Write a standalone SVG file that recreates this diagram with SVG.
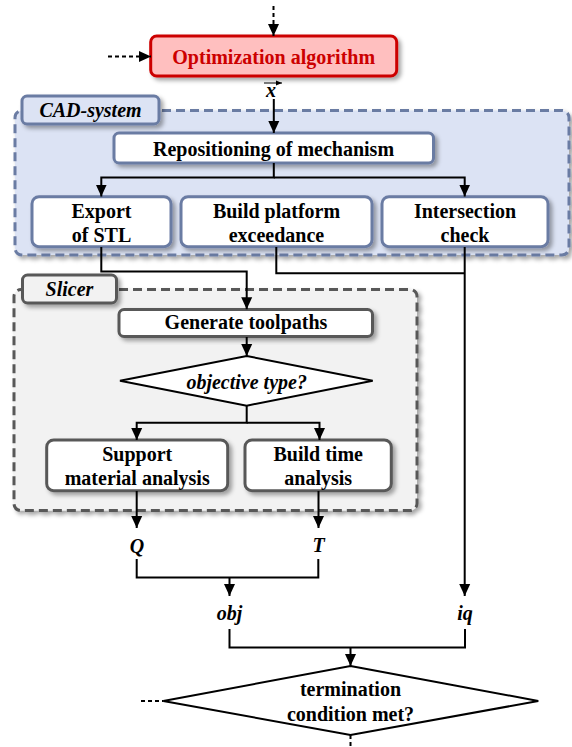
<svg xmlns="http://www.w3.org/2000/svg" width="572" height="747" viewBox="0 0 572 747">
<defs>
<filter id="sh" x="-10%" y="-20%" width="130%" height="150%">
<feDropShadow dx="3" dy="3" stdDeviation="2" flood-color="#000" flood-opacity="0.35"/>
</filter>
<marker id="ah" markerUnits="userSpaceOnUse" markerWidth="12" markerHeight="12" refX="12" refY="6" orient="auto">
<path d="M0,0.5 L12,6 L0,11.5 z" fill="#000"/>
</marker>
<marker id="ahs" markerUnits="userSpaceOnUse" markerWidth="6" markerHeight="6" refX="6" refY="3" orient="auto">
<path d="M0,0.5 L6,3 L0,5.5 z" fill="#000"/>
</marker>
</defs>
<style>
text{font-family:"Liberation Serif","Times New Roman",serif;font-size:20px;font-weight:bold;text-anchor:middle;fill:#000}
.it{font-style:italic}
.cadreg{fill:#dce3f4;stroke:#6b7ba3;stroke-width:3;stroke-dasharray:9 5}
.slreg{fill:#f2f2f2;stroke:#595959;stroke-width:3;stroke-dasharray:9 5}
.cadtab{fill:#dce3f4;stroke:#6b7ba3;stroke-width:3}
.sltab{fill:#f2f2f2;stroke:#595959;stroke-width:3}
.cadbox{fill:#fff;stroke:#6b7ba3;stroke-width:3}
.slbox{fill:#fff;stroke:#595959;stroke-width:3}
.dia{fill:#fff;stroke:#000;stroke-width:2}
.c{fill:none;stroke:#000;stroke-width:2}
.d{fill:none;stroke:#000;stroke-width:2;stroke-dasharray:4 3}
</style>

<g id="cad-region">
<rect class="cadreg" x="15" y="110.5" width="554" height="144.5" rx="7" filter="url(#sh)"/>
<rect class="cadtab" x="22" y="96" width="137" height="28" rx="5" filter="url(#sh)"/>
<text class="it" x="90.5" y="117">CAD-system</text>
</g>
<g id="slicer-region">
<rect class="slreg" x="14" y="289.5" width="403" height="221" rx="7" filter="url(#sh)"/>
<rect class="sltab" x="22.5" y="275" width="94" height="28" rx="5" filter="url(#sh)"/>
<text class="it" x="69.5" y="296">Slicer</text>
</g>

<g id="optimization">
<rect x="150.7" y="36" width="246" height="40" rx="6" fill="#ffbfbf" stroke="#cc0000" stroke-width="3" filter="url(#sh)"/>
<text x="273.7" y="64" style="fill:#cc0000">Optimization algorithm</text>
</g>
<g id="xvec">
<text class="it" x="271" y="97">x</text>
<line x1="264" y1="83" x2="282" y2="83" stroke="#000" stroke-width="1" marker-end="url(#ahs)"/>
</g>
<g id="repositioning">
<rect class="cadbox" x="114" y="133" width="319.5" height="30" rx="5" filter="url(#sh)"/>
<text x="273.5" y="155.5">Repositioning of mechanism</text>
</g>
<g id="export">
<rect class="cadbox" x="32" y="196.7" width="139" height="50" rx="7" filter="url(#sh)"/>
<text x="101.5" y="217.5">Export</text>
<text x="101.5" y="241.5">of STL</text>
</g>
<g id="buildplatform">
<rect class="cadbox" x="181" y="196.7" width="191" height="50" rx="7" filter="url(#sh)"/>
<text x="276.5" y="217.5">Build platform</text>
<text x="276.5" y="241.5">exceedance</text>
</g>
<g id="intersection">
<rect class="cadbox" x="382" y="196.7" width="166" height="50" rx="7" filter="url(#sh)"/>
<text x="465" y="217.5">Intersection</text>
<text x="465" y="241.5">check</text>
</g>
<g id="toolpaths">
<rect class="slbox" x="119" y="309.5" width="253.5" height="27" rx="5" filter="url(#sh)"/>
<text x="246" y="328.5">Generate toolpaths</text>
</g>
<g id="objtype">
<polygon class="dia" points="246.7,356 372.7,380.7 246.7,405.7 120,380.7"/>
<text class="it" x="246.7" y="388.5">objective type?</text>
</g>
<g id="support">
<rect class="slbox" x="46.7" y="440" width="181" height="50.7" rx="7" filter="url(#sh)"/>
<text x="137.2" y="460.5">Support</text>
<text x="137.2" y="484.5">material analysis</text>
</g>
<g id="buildtime">
<rect class="slbox" x="245" y="440" width="146.3" height="50.7" rx="7" filter="url(#sh)"/>
<text x="318.2" y="460.5">Build time</text>
<text x="318.2" y="484.5">analysis</text>
</g>
<g id="Q"><text class="it" x="137" y="552.5">Q</text></g>
<g id="T"><text class="it" x="318.5" y="552">T</text></g>
<g id="obj"><text class="it" x="229.5" y="620">obj</text></g>
<g id="iq"><text class="it" x="465" y="620">iq</text></g>
<g id="termination">
<polygon class="dia" points="350.5,666 538.3,701 350.5,735 163.3,701"/>
<text x="350.5" y="696">termination</text>
<text x="350.5" y="720.5">condition met?</text>
</g>

<g id="connectors">
<path class="d" d="M273.5,6 V36" marker-end="url(#ah)"/>
<path class="d" d="M108,56.5 H151" marker-end="url(#ah)"/>
<path class="c" d="M273.8,99 V133" marker-end="url(#ah)"/>
<path class="c" d="M273.8,163 V177.5 H101.3 V196.5" marker-end="url(#ah)"/>
<path class="c" d="M273.8,177.5 H464.7 V196.5" marker-end="url(#ah)"/>
<path class="c" d="M101.3,247 V271.5 H246.7 V309.3" marker-end="url(#ah)"/>
<path class="c" d="M276.3,247 V273.2 H464"/>
<path class="c" d="M464.7,247 V596" marker-end="url(#ah)"/>
<path class="c" d="M246.7,337 V356" marker-end="url(#ah)"/>
<path class="c" d="M246.7,405.7 V422.7 H136.7 V440" marker-end="url(#ah)"/>
<path class="c" d="M246.7,422.7 H319.5 V440" marker-end="url(#ah)"/>
<path class="c" d="M136.7,491 V528" marker-end="url(#ah)"/>
<path class="c" d="M318.5,491 V528" marker-end="url(#ah)"/>
<path class="c" d="M136.7,559 V577.5 H318.3 V559"/>
<path class="c" d="M229.5,577.5 V596" marker-end="url(#ah)"/>
<path class="c" d="M229.5,629 V647.5 H465 V629"/>
<path class="c" d="M350.5,647.5 V666" marker-end="url(#ah)"/>
<path class="d" d="M141,701 H163.3"/>
<path class="d" d="M350.5,735 V747"/>
</g>
</svg>
